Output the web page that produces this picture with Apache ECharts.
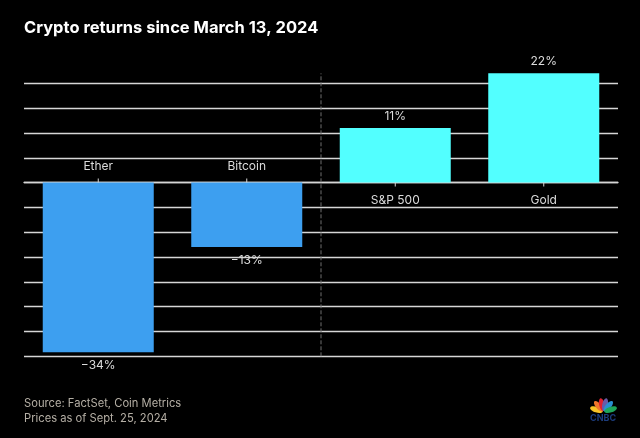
<!DOCTYPE html>
<html>
  <head>
    <meta charset="utf-8" />
    <title>Crypto returns</title>
    <script src="https://cdn.jsdelivr.net/npm/echarts@6/dist/echarts.min.js"></script>
    <style>
      html, body { margin: 0; padding: 0; background: #000; }
      #main { width: 640px; height: 438px; }
    </style>
  </head>
  <body>
    <div id="main"></div>
    <script type="text/javascript">
      let categories = ['Ether', 'Bitcoin', 'S&P 500', 'Gold'];
      let returns = [-34.2, -13, 11, 22];
      let valueLabels = ['−34%', '−13%', '11%', '22%'];
      let yMin = -35;
      let yMax = 20;
      let yStep = 5;
      // divider sits between Bitcoin and S&P 500, on the hidden 0-4 axis
      let dividerX = [2, 2];
      let dividerY = [-35, 22];

      const font = 'Inter';
      const textColor = '#dcdcdc';
      const gridColor = '#d6d6d6';

      // logo petals: [colour, angle]
      const petals = [
        ['#f7c325', 72], ['#f0762b', 40], ['#e0202f', 12],
        ['#6a5aa8', -12], ['#2a8fd0', -40], ['#1fa65a', -72]
      ];
      const logo = petals.map(function (p) {
        return {
          type: 'ellipse',
          x: 603.5,
          y: 412,
          rotation: p[1] * Math.PI / 180,
          shape: { cx: 0, cy: -7.5, rx: 2.8, ry: 6.5 },
          style: { fill: p[0] }
        };
      });
      logo.push({
        type: 'text',
        left: 590,
        top: 414,
        style: { text: 'CNBC', fill: '#1c3c7c', font: 'bold 9px ' + font }
      });

      var myChart = echarts.init(document.getElementById('main'));
      var option = {
        backgroundColor: '#000',
        animation: false,
        title: [
          {
            text: 'Crypto returns since March 13, 2024',
            left: 24,
            top: 20,
            padding: 0,
            textStyle: { color: '#fff', fontFamily: font, fontWeight: 'bold', fontSize: 16.5 }
          },
          {
            text: 'Source: FactSet, Coin Metrics\nPrices as of Sept. 25, 2024',
            left: 24,
            top: 396,
            padding: 0,
            textStyle: { color: '#b5afa5', fontFamily: font, fontWeight: 'normal', fontSize: 11.2, lineHeight: 15 }
          }
        ],
        grid: { left: 24, right: 22, top: 83.3, bottom: 81.7 },
        xAxis: [
          {
            type: 'category',
            data: categories,
            axisLine: { lineStyle: { color: gridColor, width: 1.3 } },
            axisTick: { show: false },
            axisLabel: { show: false }
          },
          { type: 'value', min: 0, max: 4, show: false }
        ],
        yAxis: {
          type: 'value',
          min: yMin,
          max: yMax,
          interval: yStep,
          axisLine: { show: false },
          axisTick: { show: false },
          axisLabel: { show: false },
          splitLine: { lineStyle: { color: gridColor, width: 1.3 } }
        },
        series: [
          {
            type: 'line',
            xAxisIndex: 1,
            data: dividerX.map(function (x, i) { return [x, dividerY[i]]; }),
            showSymbol: false,
            clip: false,
            silent: true,
            z: 2,
            lineStyle: { color: '#6e6e6e', type: 'dashed', width: 1 }
          },
          {
            type: 'bar',
            barWidth: 111,
            clip: false,
            z: 3,
            data: returns.map(function (v, i) {
              return {
                value: v,
                itemStyle: { color: v < 0 ? '#3d9ff0' : '#52ffff' },
                label: {
                  show: true,
                  position: v < 0 ? 'bottom' : 'top',
                  distance: v < 0 ? 7 : 6,
                  formatter: valueLabels[i],
                  color: textColor,
                  fontFamily: font,
                  fontSize: 12
                }
              };
            })
          },
          {
            // ticks and category names on the zero line, opposite the bar
            type: 'scatter',
            silent: true,
            z: 4,
            data: categories.map(function (name, i) {
              let up = returns[i] < 0;
              return {
                value: [i, 0],
                symbol: 'rect',
                symbolSize: [1, 4],
                symbolOffset: [0, up ? -2 : 2],
                itemStyle: { color: gridColor, opacity: 1 },
                label: {
                  show: true,
                  position: up ? 'top' : 'bottom',
                  distance: up ? 6 : 8,
                  formatter: name,
                  color: textColor,
                  opacity: 1,
                  fontFamily: font,
                  fontSize: 12
                }
              };
            })
          }
        ],
        graphic: logo
      };
      myChart.setOption(option);
    </script>
  </body>
</html>
